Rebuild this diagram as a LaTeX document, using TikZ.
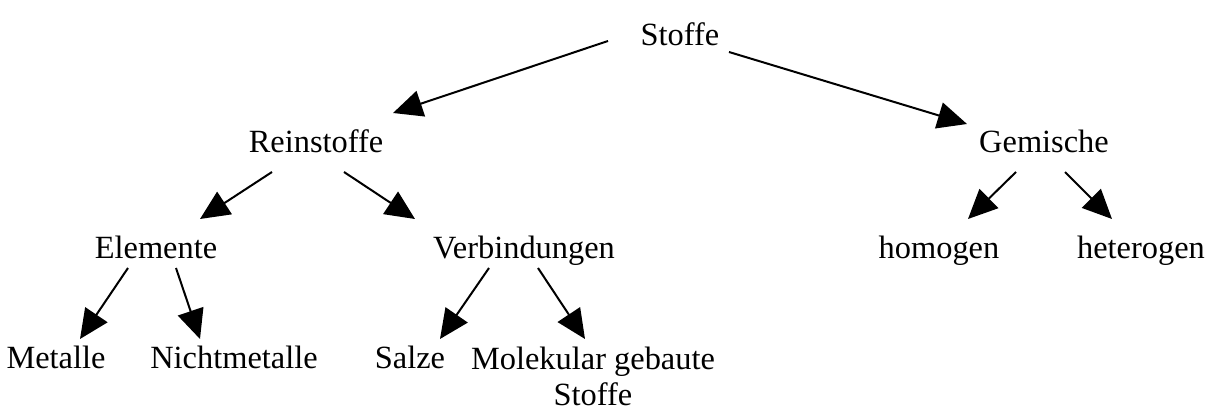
\documentclass[tikz,border=0pt]{standalone}
\usepackage{fontspec}
\setmainfont{Liberation Serif}
\usetikzlibrary{arrows.meta}
\begin{document}
\begin{tikzpicture}[x=0.75pt,y=-0.75pt,
  lbl/.style={anchor=base, inner sep=0pt, font=\fontsize{24.3}{27.6}\selectfont, align=center},
  arr/.style={line width=1.5pt, -{Triangle[length=22pt,width=20pt]}}]
\useasboundingbox (0,0) rectangle (1208,409);
\node[lbl] (stoffe) at (680,46) {Stoffe};
\node[lbl] (rein) at (316,153) {Reinstoffe};
\node[lbl] (gem) at (1044,153) {Gemische};
\node[lbl] (elem) at (156,259) {Elemente};
\node[lbl] (verb) at (524,259) {Verbindungen};
\node[lbl] (homo) at (939,259) {homogen};
\node[lbl] (het) at (1141,259) {heterogen};
\node[lbl] (met) at (56,369) {Metalle};
\node[lbl] (nicht) at (234,369) {Nichtmetalle};
\node[lbl] (salze) at (410,369) {Salze};
\node[lbl] (mol) at (593,406) {Molekular gebaute\\Stoffe};
\draw[arr] ([shift={(-72,-5)}]stoffe.base) -- ([shift={(77,-40)}]rein.base);
\draw[arr] ([shift={(49,6)}]stoffe.base) -- ([shift={(-77,-29)}]gem.base);
\draw[arr] ([shift={(-44,19)}]rein.base) -- ([shift={(44,-40)}]elem.base);
\draw[arr] ([shift={(28,19)}]rein.base) -- ([shift={(-109,-40)}]verb.base);
\draw[arr] ([shift={(-28,9)}]elem.base) -- ([shift={(24,-30)}]met.base);
\draw[arr] ([shift={(20,9)}]elem.base) -- ([shift={(-34,-30)}]nicht.base);
\draw[arr] ([shift={(-35,9)}]verb.base) -- ([shift={(30,-30)}]salze.base);
\draw[arr] ([shift={(14,9)}]verb.base) -- ([shift={(-8,-67)}]mol.base);
\draw[arr] ([shift={(-28,19)}]gem.base) -- ([shift={(29,-40)}]homo.base);
\draw[arr] ([shift={(21,19)}]gem.base) -- ([shift={(-29,-40)}]het.base);
\end{tikzpicture}
\end{document}
